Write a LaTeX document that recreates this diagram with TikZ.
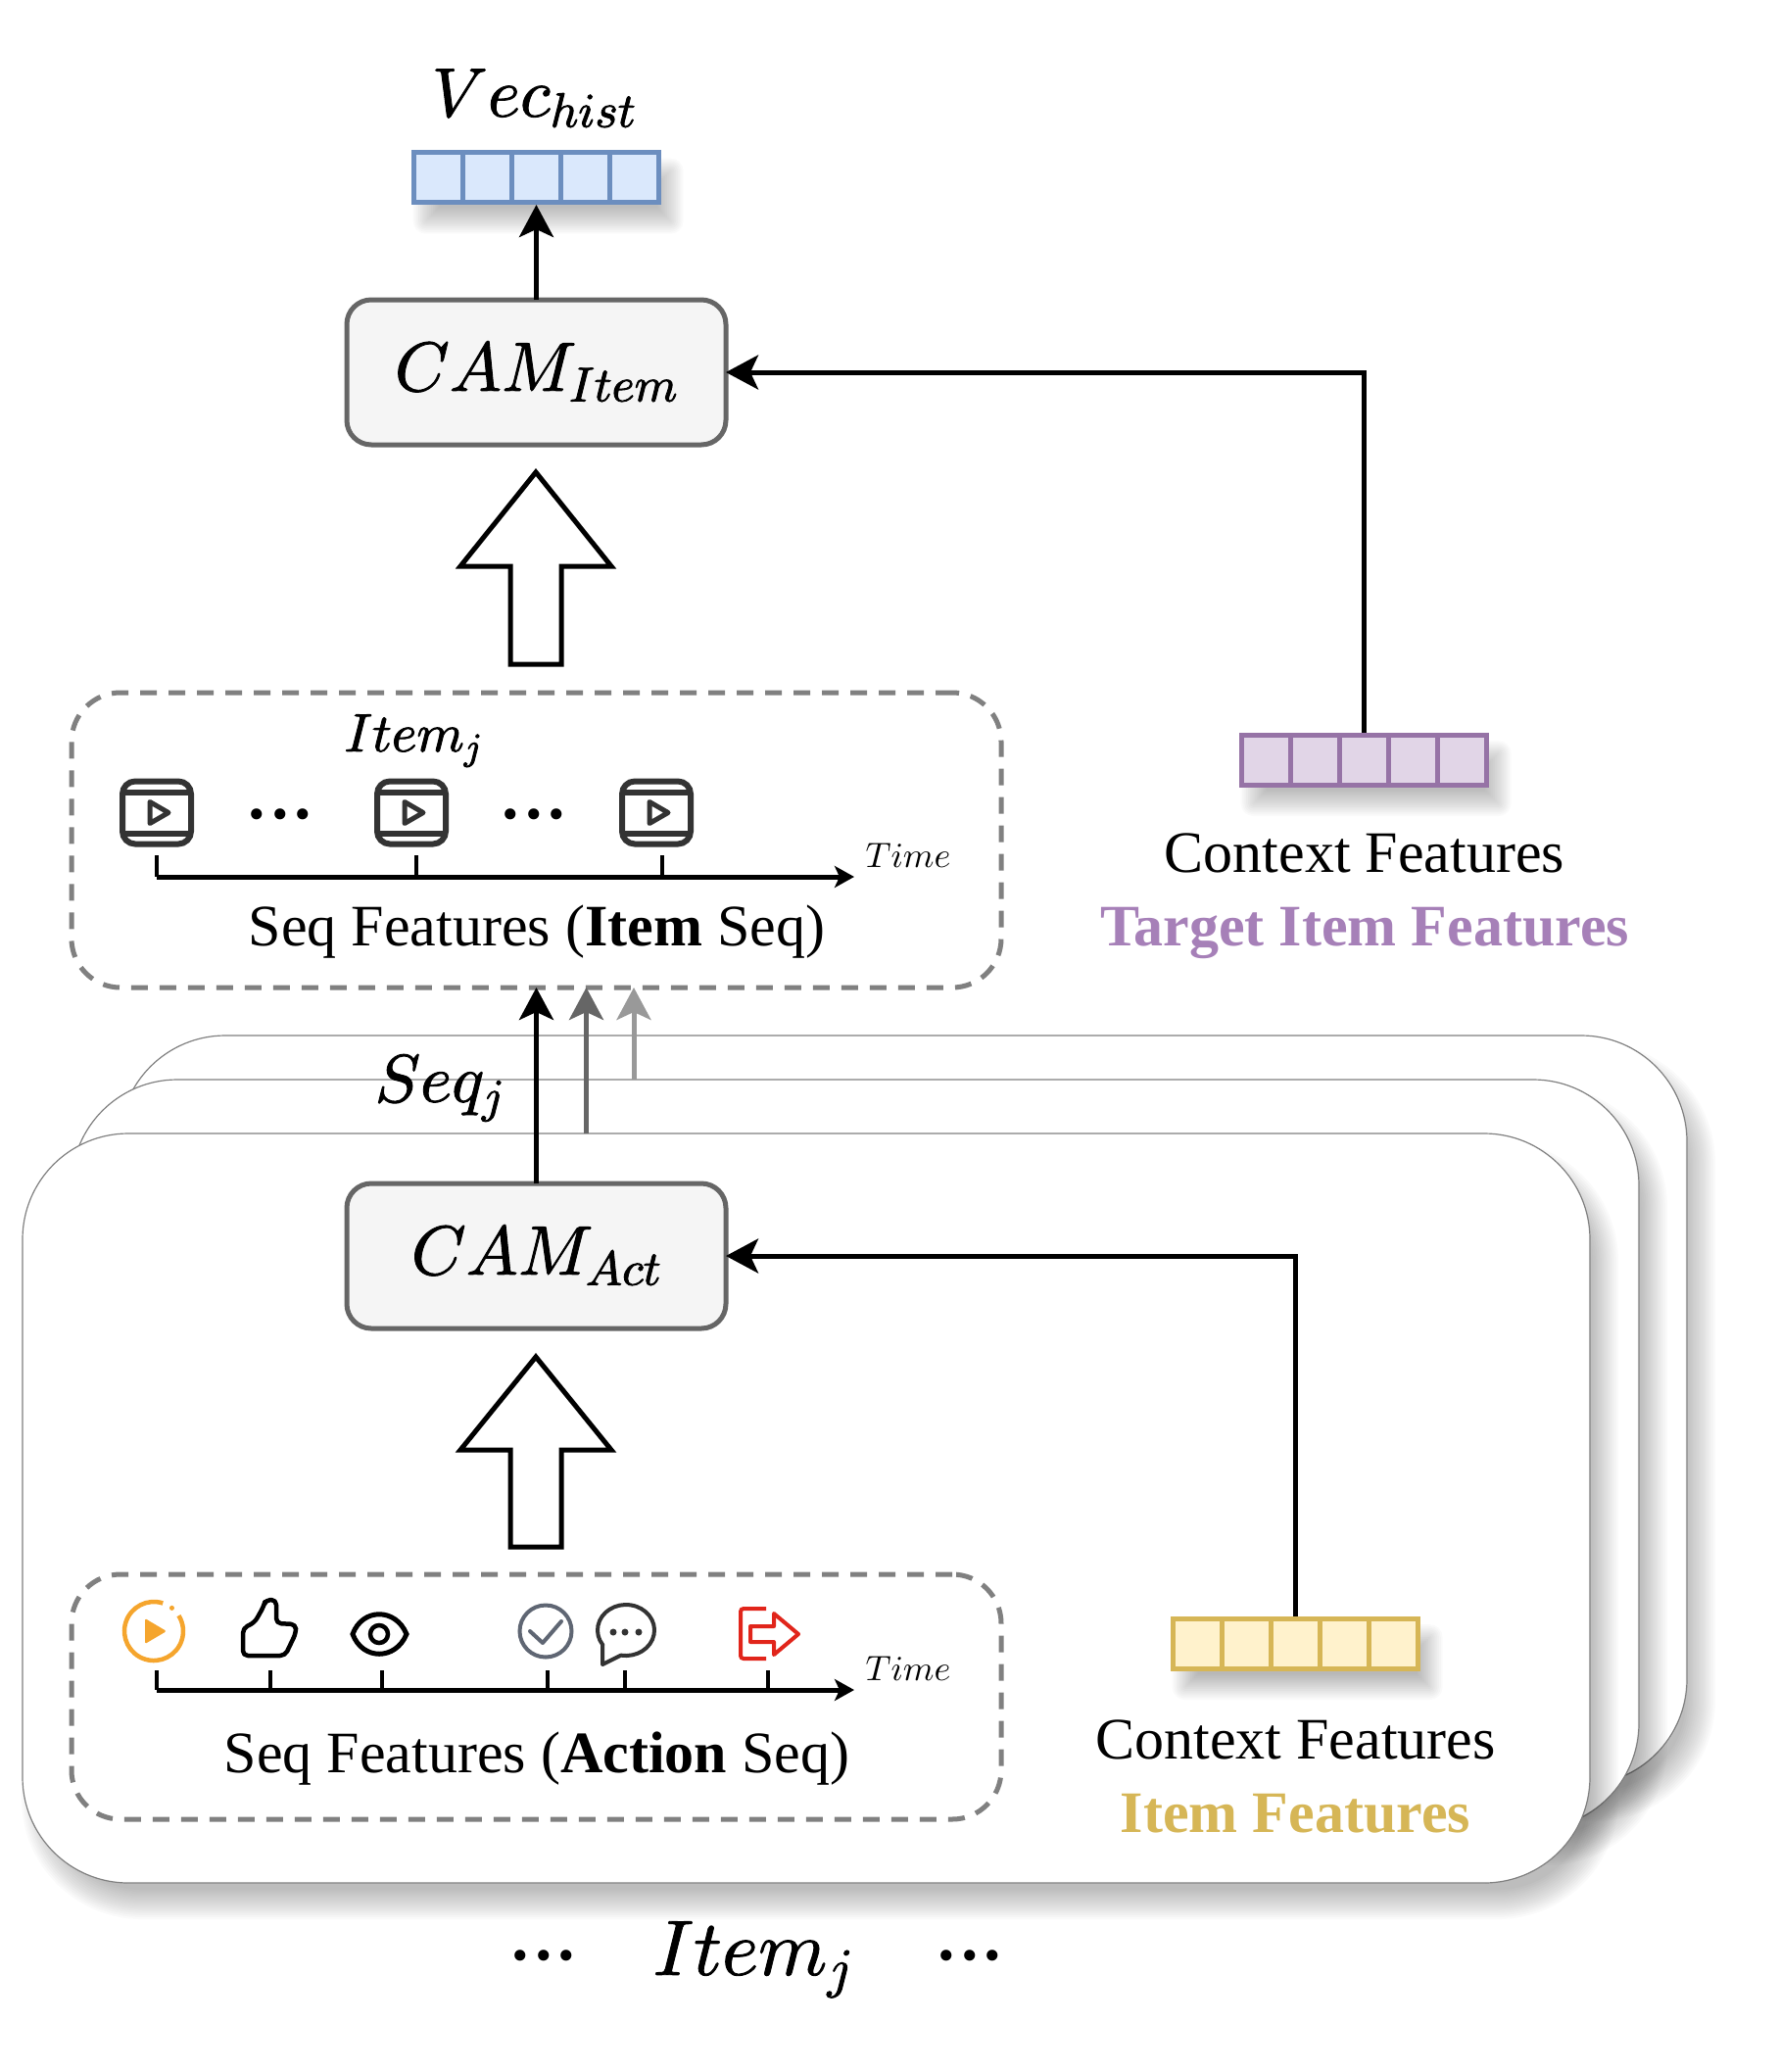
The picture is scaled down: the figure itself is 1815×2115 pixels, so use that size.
\RequirePackage{fix-cm}
\documentclass[tikz,border=0pt]{standalone}
\usepackage[no-math]{fontspec}
\setmainfont{Liberation Serif}
\DeclareFontShape{OML}{cmm}{m}{it}{<->cmmi10}{}
\usetikzlibrary{arrows.meta,calc}
\newcommand{\fs}[1]{\fontsize{#1}{#1}\selectfont}
\newcommand{\heavy}[1]{\special{pdf:code 2 Tr 0.9 w}#1\special{pdf:code 0 Tr 1 w}}
\definecolor{bluest}{HTML}{6C8EBF}\definecolor{bluefl}{HTML}{DAE8FC}
\definecolor{purpst}{HTML}{9673A6}\definecolor{purpfl}{HTML}{E1D5E7}
\definecolor{yelst}{HTML}{D6B656}\definecolor{yelfl}{HTML}{FFF2CC}
\definecolor{purptx}{HTML}{A680B8}
\definecolor{orng}{HTML}{F5A52D}\definecolor{chk}{HTML}{5F6673}\definecolor{exitred}{HTML}{E1251B}
\tikzset{
  conn/.style={line width=5pt,-{Stealth[length=33pt,width=35pt,inset=8pt]}},
  timeaxis/.style={line width=5pt,-{Stealth[length=20pt,width=22pt,inset=5pt]}},
  tick/.style={line width=4pt},
  cambox/.style={draw=black!60,fill=black!4,line width=5pt,rounded corners=25pt,minimum width=387pt,minimum height=148pt,outer sep=0pt},
  dashbox/.style={draw=black!50,line width=5pt,dash pattern=on 17pt off 12pt,rounded corners=50pt,minimum width=949pt,outer sep=0pt},
  card/.style={draw=black!50,fill=white,line width=1.2pt,rounded corners=108pt,minimum width=1600pt,minimum height=765pt,outer sep=0pt},
  vecarr/.style={line width=5pt,minimum width=250pt,minimum height=51pt,outer sep=2.5pt},
  bigarrow/.style={draw=black,fill=white,line width=5pt,line join=miter},
  lbl/.style={inner sep=0pt,outer sep=0pt,font=\fs{60}},
  videoicon/.pic={
    \draw[black!80,line width=6pt,rounded corners=13pt] (-35,-32) rectangle (35,32);
    \draw[black!80,line width=6pt] (-35,-21) -- (35,-21) (-35,21) -- (35,21);
    \draw[black!80,line width=5pt,line join=round] (-7,-11) -- (12,0) -- (-7,11) -- cycle;
  }
}
\newcommand{\softshadow}[6]{% x1 y1 x2 y2 radius spread
  \foreach \i in {0,...,14}{
    \pgfmathsetmacro{\dd}{#6*(1-\i/7)}
    \pgfmathsetmacro{\rr}{max(#5+\dd,0.1)}
    \fill[black,opacity=.018,rounded corners=\rr pt]
      ({#1+#6*.93-\dd},{#2+#6*1.47-\dd}) rectangle ({#3+#6*.93+\dd},{#4+#6*1.47+\dd});
  }
}
\newcommand{\vecnode}[5]{% name cx cy stroke fill
  \softshadow{#2-125}{#3-25.5}{#2+125}{#3+25.5}{0}{13}
  \node[vecarr,draw=#4,fill=#5] (#1) at (#2,#3) {};
  \foreach \k in {-75,-25,25,75}{\draw[#4,line width=5pt] (#2+\k,#3-25.5) -- (#2+\k,#3+25.5);}
}
\begin{document}
\begin{tikzpicture}[x=1pt,y=-1pt]
\useasboundingbox (0,0) rectangle (1815,2115);
% stacked cards
\softshadow{122}{1057}{1722}{1822}{108}{15}
\node[card] (cardback) at (922,1439.5) {};
\softshadow{73}{1102}{1673}{1867}{108}{15}
\node[card] (cardmid) at (873,1484.5) {};
\softshadow{23}{1157}{1623}{1922}{108}{15}
\node[card] (cardfront) at (823,1539.5) {};
% vectors
\vecnode{vechist}{547.5}{181}{bluest}{bluefl}
\vecnode{target}{1392.5}{775.5}{purpst}{purpfl}
\vecnode{itemvec}{1322.5}{1677.5}{yelst}{yelfl}
% CAM boxes
\node[cambox] (camitem) at (547.5,380) {\raisebox{-4pt}{\fs{71}\heavy{$CAM_{Item}$}}};
\node[cambox] (camact) at (547.5,1282) {\fs{71}\heavy{$CAM_{Act}$}};
% dashed boxes
\node[dashbox,minimum height=301pt] (seqitem) at (547.5,857.5) {};
\node[dashbox,minimum height=250pt] (seqact) at (547.5,1732) {};
% connectors
\draw[conn] (camitem.north) -- (vechist.south);
\draw[conn] (target.north) |- (camitem.east);
\draw[conn] (itemvec.north) |- (camact.east);
\draw[conn] (camact.north) -- (camact.north |- seqitem.south);
\coordinate (srcmid) at (598.5,1157);
\coordinate (srcback) at (647,1102);
\draw[conn,black!60] (srcmid) -- (srcmid |- seqitem.south);
\draw[conn,black!40] (srcback) -- (srcback |- seqitem.south);
% big hollow arrows
\draw[bigarrow] (547,482) -- (624,578) -- (573,578) -- (573,678) -- (521,678) -- (521,578) -- (470,578) -- cycle;
\draw[bigarrow] (547,1385) -- (624,1480) -- (573,1480) -- (573,1579) -- (521,1579) -- (521,1480) -- (470,1480) -- cycle;
% labels
\node[lbl,font=\fs{71}] (vlab) at (545,100) {\heavy{$Vec_{hist}$}};
\node[lbl,font=\fs{55}] (itemjtop) at (422,756) {\heavy{$Item_j$}};
\node[lbl] (seqitemlab) at (548,951) {Seq Features (\textbf{Item} Seq)};
\node[lbl] (seqactlab) at (548,1795) {Seq Features (\textbf{Action} Seq)};
\node[lbl] (ctx1) at (1393,871) {Context Features};
\node[lbl,text=purptx,font=\fs{60}\bfseries] (tif) at (1393,952) {Target Item Features};
\node[lbl] (ctx2) at (1322.5,1776) {Context Features};
\node[lbl,text=yelst,font=\fs{60}\bfseries] (itf) at (1322.5,1851) {Item Features};
\node[lbl,font=\fs{69}] (seqj) at (449,1111) {\heavy{$Seq_j$}};
\node[lbl,font=\fs{80}] (itemjbot) at (769,2000) {\heavy{$Item_j$}};
\node[lbl,font=\fs{36}] (time1) at (927,873) {$Time$};
\node[lbl,font=\fs{36}] (time2) at (927,1703) {$Time$};
% dots as text
\foreach \nm/\px/\py in {d1/286/835,d2/545/835,d3/555/2000,d4/990/2000}
  \node[inner sep=0pt,anchor=base,font=\fs{94}] (\nm) at (\px,\py) {...};
% item timeline
\coordinate (ta0) at (160,895);\coordinate (ta1) at (872,895);
\draw[timeaxis] (ta0) -- (ta1);
\foreach \tx in {160,425,676} \draw[tick] (\tx,873) -- (\tx,895);
\pic at (160,829.5) {videoicon};
\pic at (420,829.5) {videoicon};
\pic at (670,829.5) {videoicon};
% action timeline
\coordinate (tb0) at (160,1725);\coordinate (tb1) at (872,1725);
\draw[timeaxis] (tb0) -- (tb1);
\foreach \tx in {160,276,390,559,638,784} \draw[tick] (\tx,1705) -- (\tx,1725);
% play icon
\draw[orng,line width=4.5pt] (157,1665) ++(72:30pt) arc[start angle=72,end angle=392,radius=30pt];
\fill[orng] (157,1665) ++(52:30pt) circle (2.5pt);
\fill[orng,rounded corners=1.5pt] (148,1652) -- (170,1665) -- (148,1678) -- cycle;
% thumb
\draw[black,line width=4.5pt,rounded corners=5pt,line join=round] (248,1690) -- (248,1662) -- (260,1656) -- (269,1640) -- (271,1633) -- (282,1633) -- (282,1657) -- (302,1658) -- (302,1667) -- (291,1690) -- cycle;
% eye
\draw[black,line width=5pt] (360,1668) .. controls (370,1641) and (404,1641) .. (415,1668) .. controls (404,1695) and (370,1695) .. (360,1668) -- cycle;
\draw[black,line width=4.5pt] (387,1668) circle (9pt);
% check
\draw[chk,line width=4pt] (557,1665) circle (26.5pt);
\draw[chk,line width=4pt,line cap=round,line join=round] (541,1665) -- (554,1677) -- (573,1655);
% bubble
\draw[black!80,line width=4pt,line join=round] (639,1664) ++(-100:29pt and 26pt) arc[start angle=-100,end angle=215,x radius=29pt,y radius=26pt] -- (615,1699) -- cycle;
\foreach \bx in {626,638,652} \fill[black!80] (\bx,1666) circle (3.5pt);
% exit
\draw[exitred,line width=4pt,rounded corners=3pt] (782,1642) -- (756,1642) -- (756,1693) -- (782,1693);
\draw[exitred,line width=4pt,line join=round] (766,1660) -- (790,1660) -- (790,1647) -- (815,1668) -- (790,1689) -- (790,1676) -- (766,1676) -- cycle;
\end{tikzpicture}
\end{document}
